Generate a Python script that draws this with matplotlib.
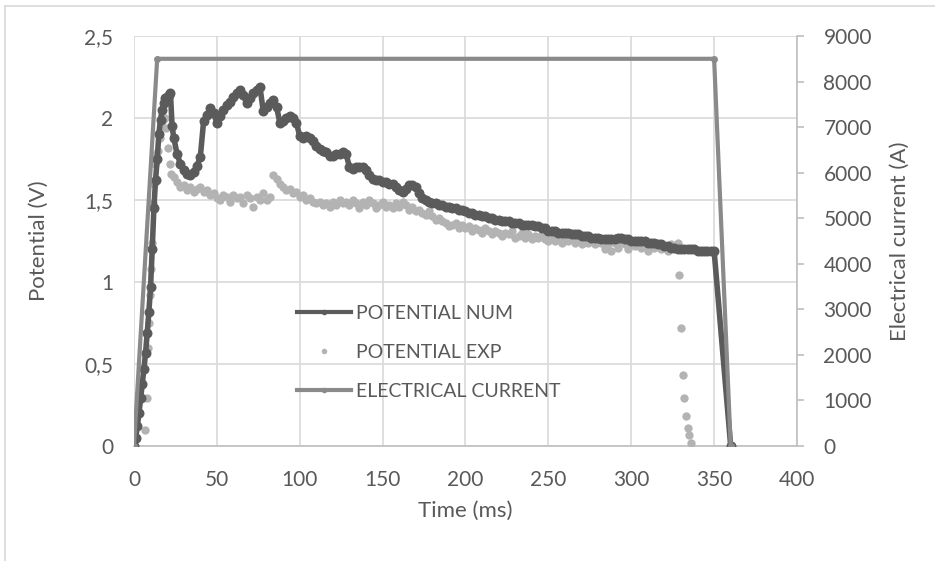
import numpy as np
import matplotlib.pyplot as plt
from matplotlib.lines import Line2D
from matplotlib.ticker import FuncFormatter

plt.rcParams['font.family'] = ['Lato', 'DejaVu Sans']

# --- potential, numerical model (V) ---
num_rise_t = [0, 1, 2, 3, 4, 5, 6, 7, 8, 9, 10, 11, 12, 13, 14, 15, 16, 17, 18, 19, 20, 21, 22, 23]
num_rise = [0, 0.05, 0.12, 0.20, 0.29, 0.38, 0.47, 0.57, 0.69, 0.82, 0.97, 1.20,
            1.45, 1.62, 1.75, 1.90, 1.99, 2.05, 2.09, 2.12, 2.13, 2.14, 2.15, 1.95]
# every 2 ms from 24 ms
num_main = [1.88, 1.78, 1.72, 1.68, 1.66, 1.65, 1.67, 1.71, 1.76, 1.98,
            2.02, 2.06, 2.03, 1.97, 2.01, 2.05, 2.08, 2.10, 2.13, 2.15,
            2.17, 2.14, 2.09, 2.12, 2.15, 2.17, 2.19, 2.04, 2.07, 2.09,
            2.11, 2.07, 1.97, 1.98, 2.00, 2.01, 2.00, 1.97, 1.89, 1.88,
            1.89, 1.88, 1.86, 1.83, 1.81, 1.80, 1.79, 1.77, 1.77, 1.78,
            1.78, 1.79, 1.78, 1.70, 1.69, 1.70, 1.70, 1.70, 1.68, 1.65,
            1.63, 1.62, 1.62, 1.61, 1.61, 1.60, 1.60, 1.58, 1.56, 1.55,
            1.57, 1.59, 1.59, 1.58, 1.54, 1.51, 1.50, 1.49, 1.48, 1.48,
            1.47, 1.47, 1.46, 1.46, 1.45, 1.45, 1.44, 1.44, 1.43, 1.42,
            1.42, 1.41, 1.41, 1.40, 1.40, 1.39, 1.39, 1.38, 1.38, 1.37,
            1.37, 1.37, 1.36, 1.36, 1.36, 1.35, 1.35, 1.35, 1.35, 1.34,
            1.34, 1.33, 1.33, 1.31, 1.31, 1.31, 1.30, 1.30, 1.30, 1.30,
            1.29, 1.29, 1.29, 1.28, 1.28, 1.28, 1.27, 1.27, 1.27, 1.26,
            1.26, 1.26, 1.26, 1.26, 1.27, 1.27, 1.26, 1.26, 1.25, 1.25,
            1.25, 1.25, 1.25, 1.24, 1.24, 1.24, 1.23, 1.23, 1.22, 1.22,
            1.21, 1.21, 1.20, 1.20, 1.20, 1.20, 1.20, 1.20, 1.19, 1.19,
            1.19, 1.19, 1.19, 1.19]
num_end_t = [360]
num_end = [0]

# --- potential, experiment (V) ---
exp_rise_t = [0, 6.6, 7.8, 8.4, 9.2, 9.7, 10.3, 10.9, 11.5, 12.1, 12.7, 13.5,
              14.5, 15.5, 16.5, 17.5, 18.5, 19.5, 20.5, 21.5, 22.5]
exp_rise = [0, 0.10, 0.29, 0.60, 0.75, 0.92, 1.08, 1.24, 1.48, 1.60, 1.72, 1.78,
            1.80, 1.88, 1.95, 1.99, 2.00, 1.94, 1.82, 1.72, 1.66]
# every 2 ms from 24 ms
exp_main = [1.64, 1.61, 1.58, 1.59, 1.56, 1.58, 1.55, 1.57, 1.58, 1.55,
            1.56, 1.53, 1.54, 1.51, 1.50, 1.53, 1.52, 1.49, 1.53, 1.51,
            1.52, 1.48, 1.53, 1.51, 1.46, 1.52, 1.50, 1.54, 1.50, 1.52,
            1.65, 1.63, 1.60, 1.58, 1.56, 1.57, 1.54, 1.55, 1.52, 1.53,
            1.50, 1.51, 1.49, 1.48, 1.49, 1.47, 1.48, 1.46, 1.49, 1.47,
            1.50, 1.48, 1.49, 1.47, 1.50, 1.48, 1.45, 1.49, 1.47, 1.50,
            1.48, 1.45, 1.47, 1.49, 1.46, 1.47, 1.45, 1.48, 1.46, 1.49,
            1.47, 1.44, 1.46, 1.43, 1.44, 1.42, 1.41, 1.43, 1.40, 1.38,
            1.39, 1.37, 1.36, 1.34, 1.35, 1.36, 1.33, 1.35, 1.33, 1.34,
            1.31, 1.33, 1.32, 1.30, 1.33, 1.31, 1.29, 1.31, 1.30, 1.28,
            1.30, 1.29, 1.31, 1.27, 1.28, 1.30, 1.27, 1.29, 1.26, 1.28,
            1.27, 1.29, 1.26, 1.25, 1.28, 1.25, 1.27, 1.24, 1.26, 1.25,
            1.27, 1.24, 1.26, 1.23, 1.25, 1.24, 1.26, 1.23, 1.25, 1.24,
            1.20, 1.23, 1.19, 1.24, 1.21, 1.25, 1.23, 1.20, 1.24, 1.22,
            1.25, 1.21, 1.23, 1.19, 1.24, 1.21, 1.23, 1.20, 1.22, 1.19,
            1.23, 1.21, 1.24]
exp_end_t = [329, 330, 331, 332, 333, 334, 335, 336]
exp_end = [1.04, 0.72, 0.43, 0.29, 0.18, 0.11, 0.07, 0.02]

# --- electrical current (A) ---
current_t = [0, 14, 350, 360]
current = [0, 8500, 8500, 0]

num_t = np.concatenate([num_rise_t, 24 + 2 * np.arange(len(num_main)), num_end_t])
num_v = np.concatenate([num_rise, num_main, num_end])
exp_t = np.concatenate([exp_rise_t, 24 + 2 * np.arange(len(exp_main)), exp_end_t])
exp_v = np.concatenate([exp_rise, exp_main, exp_end])

c_num = '#5b5b5b'
c_exp = '#b3b3b3'
c_cur = '#8a8a8a'
c_text = '#595959'
c_grid = '#d9d9d9'

fig = plt.figure(figsize=(9.35, 5.61), dpi=100)
ax = fig.add_axes([0.1433, 0.205, 0.7091, 0.7308])
ax2 = ax.twinx()

ax.plot(exp_t, exp_v, ls='none', marker='o', ms=6, color=c_exp, mec='none', zorder=3)
ax.plot(num_t, num_v, color=c_num, lw=4, marker='o', ms=7.2, mec='none', zorder=4)
ax2.plot(current_t, current, color=c_cur, lw=3, marker='o', ms=5, mec='none')

ax.set_xlim(0, 400)
ax.set_ylim(0, 2.5)
ax2.set_ylim(0, 9000)
ax.set_xticks(np.arange(0, 401, 50))
ax.set_yticks(np.arange(0, 2.51, 0.5))
ax2.set_yticks(np.arange(0, 9001, 1000))

comma = FuncFormatter(lambda v, p: f'{v:g}'.replace('.', ','))
ax.yaxis.set_major_formatter(comma)

ax.grid(True, color=c_grid, lw=1.2)
ax.set_axisbelow(True)
for a in (ax, ax2):
    for s in a.spines.values():
        s.set_visible(False)
ax2.spines['right'].set_visible(True)
ax2.spines['right'].set_color('#bfbfbf')
ax2.spines['right'].set_linewidth(1.2)
ax.spines['bottom'].set_visible(True)
ax.spines['bottom'].set_color('#bfbfbf')
ax.spines['bottom'].set_linewidth(1.2)

ax.tick_params(axis='x', length=0, labelsize=15, labelcolor=c_text, pad=17)
ax.tick_params(axis='y', length=0, labelsize=15, labelcolor=c_text, pad=15)
ax2.tick_params(axis='y', length=5, width=1.2, color='#bfbfbf', labelsize=15,
                labelcolor=c_text, pad=14)

ax.set_xlabel('Time (ms)', fontsize=16, color=c_text)
ax.set_ylabel('Potential (V)', fontsize=16, color=c_text)
ax2.set_ylabel('Electrical current (A)', fontsize=16, color=c_text)
ax.xaxis.set_label_coords(0.5, -0.135)
ax.yaxis.set_label_coords(-0.128, 0.5)
ax2.yaxis.set_label_coords(1.14, 0.5)

handles = [
    Line2D([], [], color=c_num, lw=3, marker='o', ms=4, mec='none'),
    Line2D([], [], ls='none', color=c_exp, marker='o', ms=4, mec='none'),
    Line2D([], [], color=c_cur, lw=3, marker='o', ms=4, mec='none'),
]
labels = ['POTENTIAL NUM', 'POTENTIAL EXP', 'ELECTRICAL CURRENT']
leg = ax2.legend(handles, labels, loc='upper left', bbox_to_anchor=(0.299, 0.487),
                 bbox_transform=fig.transFigure, frameon=False, fontsize=14,
                 labelcolor=c_text, handlelength=2.75, handletextpad=0.3,
                 labelspacing=1.13)

# outer chart frame
fig.add_artist(Line2D([0.005, 0.005], [0.0, 0.99], color=c_grid, lw=1.2,
                      transform=fig.transFigure))
fig.add_artist(Line2D([0.005, 1.0], [0.99, 0.99], color=c_grid, lw=1.2,
                      transform=fig.transFigure))

fig.savefig('out.png', dpi=100)
